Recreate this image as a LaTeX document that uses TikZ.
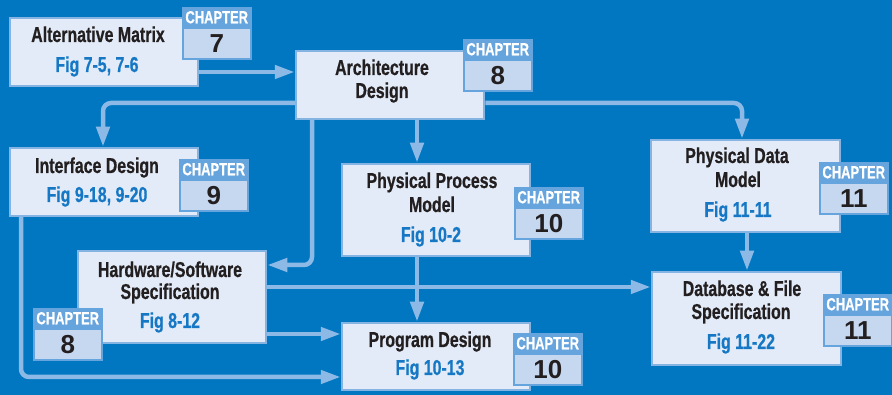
\documentclass[tikz,border=0pt]{standalone}
\usepackage{fontspec}
\setmainfont{Liberation Sans}
\newfontfamily\condf{Liberation Sans}[FakeStretch=0.74, BoldFeatures={FakeBold=0.6}]
\usetikzlibrary{arrows.meta,calc}
\definecolor{bgblue}{RGB}{0,119,192}
\definecolor{boxfill}{RGB}{226,235,247}
\definecolor{boxedge}{RGB}{133,180,227}
\definecolor{linecol}{RGB}{141,185,230}
\definecolor{headblue}{RGB}{102,164,222}
\definecolor{numfill}{RGB}{197,216,240}
\definecolor{titlecol}{RGB}{35,31,32}
\definecolor{figcol}{RGB}{22,120,196}
\pgfdeclarelayer{back}
\pgfdeclarelayer{conn}
\pgfsetlayers{back,conn,main}
\newcommand\chaptag[4]{%
  \node[taghead, anchor=north west] (#1h) at (#2,#3) {CHAPTER};
  \node[tagnum, anchor=north] (#1n) at (#1h.south) {#4};}
\begin{document}
\begin{tikzpicture}[x=1pt,y=-1pt,
  box/.style={draw=boxedge, fill=boxfill, line width=2.5pt, inner sep=0pt, minimum width=188pt},
  ttl/.style={font=\condf\bfseries\fontsize{21.5}{23}\selectfont, text=titlecol, anchor=base, inner sep=0pt},
  fig/.style={font=\condf\bfseries\fontsize{21.5}{23}\selectfont, text=figcol, anchor=base, inner sep=0pt},
  taghead/.style={fill=headblue, draw=headblue, line width=1.5pt, minimum width=68pt, minimum height=19pt, inner sep=0pt,
     font=\condf\bfseries\fontsize{17.5}{18}\selectfont, text=white},
  tagnum/.style={fill=numfill, draw=headblue, line width=1.5pt, minimum width=68pt, minimum height=31pt, inner sep=0pt,
     font=\bfseries\fontsize{26}{28}\selectfont, text=titlecol},
  conn/.style={draw=linecol, line width=4.5pt, rounded corners=8pt, -{Triangle[length=20pt,width=13pt]}, color=linecol}
]
\begin{pgfonlayer}{back}
\fill[bgblue] (0,0) rectangle (892,395);
\end{pgfonlayer}
\useasboundingbox (0,0) rectangle (892,395);

% helper coordinates
\coordinate (y72) at (0,72);
\coordinate (y103) at (0,103);
\coordinate (x103) at (103,0);
\coordinate (x742) at (742,0);
\coordinate (x312) at (312,0);
\coordinate (y265) at (0,265);
\coordinate (x417) at (417,0);
\coordinate (y287) at (0,287);
\coordinate (y334) at (0,334);
\coordinate (x21) at (21,0);
\coordinate (y377) at (0,377);
\coordinate (x747) at (747,0);

% boxes
\node[box, minimum height=68pt] (AM) at (104,52) {};
\node[box, minimum height=68pt] (AD) at (390,85) {};
\node[box, minimum height=68pt] (ID) at (104,182) {};
\node[box, minimum height=92pt] (HS) at (172,297) {};
\node[box, minimum height=92pt] (PP) at (436,210) {};
\node[box, minimum height=67pt] (PD) at (436,356.5) {};
\node[box, minimum height=92pt, minimum width=189pt] (PDM) at (745.5,186) {};
\node[box, minimum height=93pt, minimum width=189pt] (DB) at (746.5,318.5) {};

% texts
\node[ttl] (AMt) at (98,42) {Alternative Matrix};
\node[fig] (AMf) at (97,72) {Fig 7-5, 7-6};
\node[ttl] (ADt1) at (382,75) {Architecture};
\node[ttl] (ADt2) at (382,98) {Design};
\node[ttl] (IDt) at (97,173) {Interface Design};
\node[fig] (IDf) at (97,202) {Fig 9-18, 9-20};
\node[ttl] (HSt1) at (170,277) {Hardware/Software};
\node[ttl] (HSt2) at (170,299) {Specification};
\node[fig] (HSf) at (170,328) {Fig 8-12};
\node[ttl] (PPt1) at (432,188) {Physical Process};
\node[ttl] (PPt2) at (432,212) {Model};
\node[fig] (PPf) at (431,242) {Fig 10-2};
\node[ttl] (PDt) at (430,347) {Program Design};
\node[fig] (PDf) at (430,375) {Fig 10-13};
\node[ttl] (PDMt1) at (737,163) {Physical Data};
\node[ttl] (PDMt2) at (738,187) {Model};
\node[fig] (PDMf) at (738,217) {Fig 11-11};
\node[ttl] (DBt1) at (742,296) {Database \& File};
\node[ttl] (DBt2) at (741,319) {Specification};
\node[fig] (DBf) at (741,349) {Fig 11-22};

% chapter tags
\chaptag{c7}{182}{7}{7}
\chaptag{c8a}{463}{39}{8}
\chaptag{c9}{179}{159}{9}
\chaptag{c8b}{33}{308}{8}
\chaptag{c10a}{514}{187}{10}
\chaptag{c10b}{513}{333}{10}
\chaptag{c11a}{819}{162}{11}
\chaptag{c11b}{823}{294}{11}

% connectors
\begin{pgfonlayer}{conn}
\draw[conn] (AM.east |- y72) -- (AD.west |- y72);
\draw[conn] (AD.west |- y103) -| (x103 |- ID.north);
\draw[conn] (AD.east |- y103) -| (x742 |- PDM.north);
\draw[conn] (x312 |- AD.south) |- (HS.east |- y265);
\draw[conn] (x417 |- AD.south) -- (x417 |- PP.north);
\draw[conn] (x417 |- PP.south) -- (x417 |- PD.north);
\draw[conn] (HS.east |- y287) -- (DB.west |- y287);
\draw[conn] (HS.east |- y334) -- (PD.west |- y334);
\draw[conn] (x21 |- ID.south) |- (PD.west |- y377);
\draw[conn] (x747 |- PDM.south) -- (x747 |- DB.north);
\end{pgfonlayer}
\end{tikzpicture}
\end{document}
